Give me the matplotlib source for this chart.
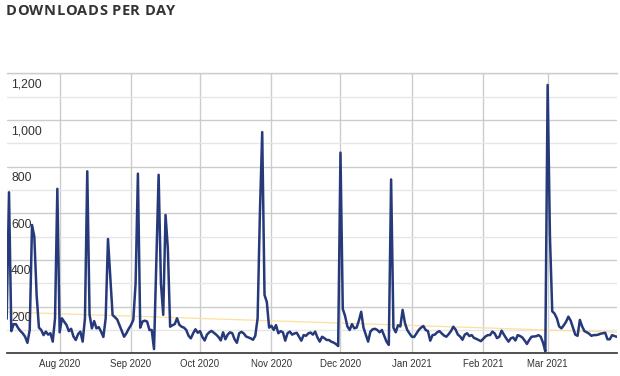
import matplotlib
matplotlib.use("Agg")
import matplotlib.pyplot as plt
import matplotlib.dates as mdates
import matplotlib.transforms as mtransforms
import numpy as np
import pandas as pd

title = "DOWNLOADS PER DAY"
start_date = "2020-07-09"
downloads = [
    150, 690, 95, 125, 125, 108, 95, 85, 71, 45,
    100, 550, 500, 250, 110, 100, 78, 93, 80, 86,
    50, 150, 705, 90, 150, 135, 121, 95, 105, 72,
    57, 82, 93, 50, 150, 780, 165, 107, 138, 107,
    112, 93, 70, 150, 490, 330, 164, 155, 145, 120,
    95, 71, 86, 105, 121, 143, 300, 770, 110, 136,
    140, 136, 100, 100, 18, 400, 765, 300, 165, 593,
    450, 114, 120, 125, 150, 122, 114, 110, 100, 75,
    64, 86, 103, 88, 95, 70, 55, 80, 90, 96,
    88, 80, 70, 55, 90, 60, 80, 90, 86, 60,
    45, 86, 92, 85, 72, 68, 64, 58, 75, 150,
    600, 948, 250, 220, 110, 118, 100, 121, 86, 95,
    90, 54, 86, 93, 80, 85, 88, 71, 54, 78,
    75, 85, 89, 80, 93, 68, 50, 71, 65, 57,
    57, 50, 46, 40, 31, 860, 190, 160, 115, 100,
    125, 107, 110, 140, 178, 110, 80, 50, 93, 103,
    105, 100, 90, 100, 75, 50, 36, 745, 110, 90,
    120, 115, 186, 130, 100, 85, 71, 70, 85, 100,
    110, 117, 100, 95, 54, 78, 80, 90, 95, 85,
    76, 71, 82, 95, 114, 102, 80, 72, 58, 80,
    86, 74, 78, 66, 62, 57, 52, 62, 72, 78,
    78, 93, 85, 65, 71, 97, 80, 64, 50, 64,
    68, 55, 78, 74, 68, 55, 40, 57, 71, 72,
    73, 78, 71, 45, 8, 1150, 500, 180, 170, 150,
    115, 107, 120, 135, 157, 140, 110, 80, 75, 143,
    115, 95, 90, 84, 75, 78, 78, 80, 84, 86,
    88, 60, 60, 78, 74, 71,
]
trend = [177, 90]
y_ticks = [200, 400, 600, 800, 1000, 1200]
y_labels = ["200", "400", "600", "800", "1,000", "1,200"]

dates = pd.date_range(start_date, periods=len(downloads), freq="D")

W, H = 620, 376
fig = plt.figure(figsize=(W / 100, H / 100), dpi=100)
left_px, right_px, top_px, bottom_px = 6.7, 616.7, 73.3, 353.3
ax = fig.add_axes([left_px / W, 1 - bottom_px / H,
                   (right_px - left_px) / W, (bottom_px - top_px) / H])

ax.set_xlim(dates[0], dates[-1])
ax.set_ylim(0, 1200)

# grid
ax.set_yticks(y_ticks)
ax.set_yticks([100, 300, 500, 700, 900, 1100], minor=True)
ax.xaxis.set_major_locator(mdates.MonthLocator())
ax.xaxis.set_major_formatter(mdates.DateFormatter("%b %Y"))
ax.grid(True, which="major", axis="both", color="#cccccc", lw=1.0, zorder=0)
ax.grid(True, which="minor", axis="y", color="#e6e6e6", lw=1.0, zorder=0)
ax.axhline(1200, color="#cccccc", lw=1.0, zorder=0, clip_on=False)
ax.set_axisbelow(True)
for s in ["top", "right", "left"]:
    ax.spines[s].set_visible(False)
ax.spines["bottom"].set_color("#333333")
ax.spines["bottom"].set_linewidth(1.2)
ax.tick_params(axis="y", which="both", length=0, labelleft=False)
ax.tick_params(axis="x", which="both", length=0, pad=4, labelsize=6.9,
               labelcolor="#333333")
for lab in ax.get_xticklabels():
    lab.set_fontfamily("Liberation Sans")

# y labels below gridlines
trans = mtransforms.blended_transform_factory(ax.transAxes, ax.transData)
off = mtransforms.offset_copy(trans, fig=fig, x=4.3, y=-5.5, units="dots")
for v, s in zip(y_ticks, y_labels):
    ax.text(0, v, s, transform=off, ha="left", va="top", fontsize=8.8,
            color="#333333", family="Liberation Sans", zorder=5)

# trend line
ax.plot([dates[0], dates[-1]], trend, color="#fbe0a0", lw=0.9, zorder=2)
# data line
ax.plot(dates, downloads, color="#26397b", lw=1.8, zorder=3,
        solid_joinstyle="round")

# title with slight letter spacing
renderer = fig.canvas.get_renderer()
x_px = 6.0
spacing = 0.4
for ch in title:
    t = fig.text(x_px / W, 1 - 4 / H, ch, ha="left", va="top", fontsize=10.5,
                 fontweight="bold", family="Open Sans", color="#333333")
    if ch == " ":
        w = 3.9
    else:
        w = t.get_window_extent(renderer).width
    x_px += w + spacing

fig.savefig("out.png", dpi=100)
